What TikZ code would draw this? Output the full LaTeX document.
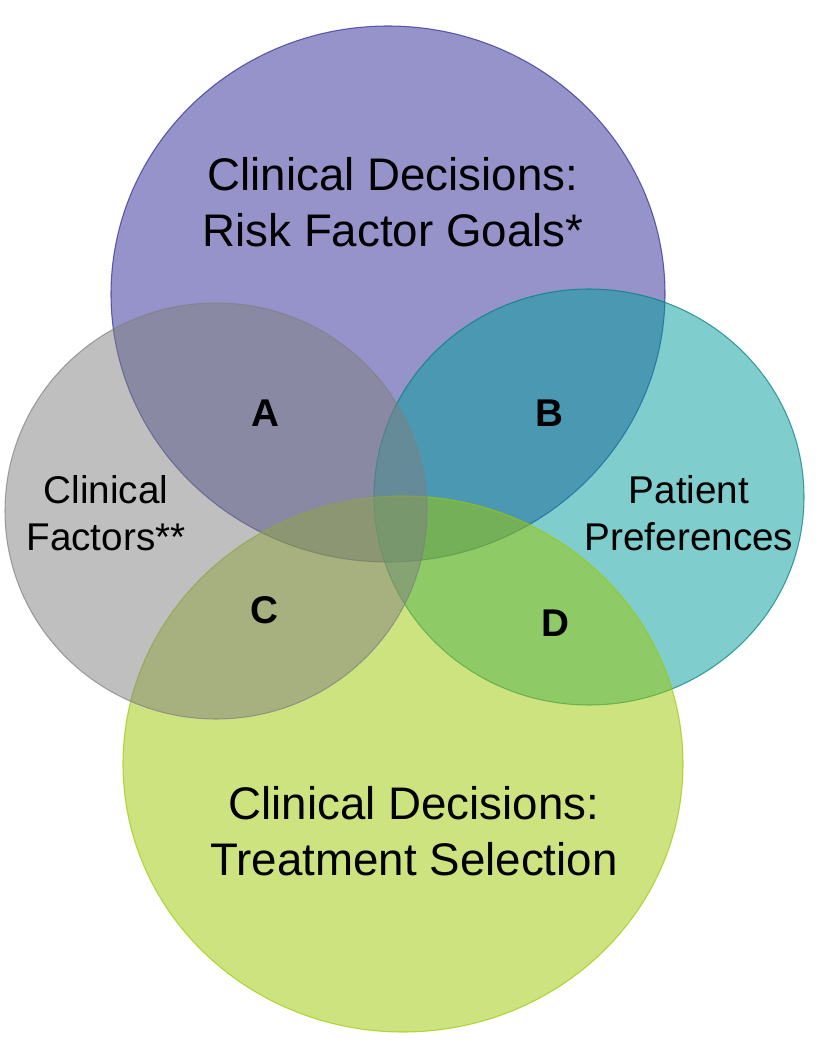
\documentclass[tikz,border=0pt]{standalone}
\usepackage{fontspec}
\setmainfont{Liberation Sans}
\usetikzlibrary{positioning}
\definecolor{riskcol}{RGB}{45,41,149}
\definecolor{prefcol}{RGB}{0,157,157}
\definecolor{treatcol}{RGB}{157,201,0}
\definecolor{factcol}{RGB}{128,128,128}
\tikzset{
    set/.style={fill opacity=0.5, draw opacity=0.7, line width=0.6pt},
    big/.style={align=center, font=\fontsize{26}{32}\selectfont},
    mid/.style={align=center, font=\fontsize{22}{27}\selectfont},
    region/.style={font=\fontsize{22}{26}\selectfont\bfseries}
}

\begin{document}
\begin{tikzpicture}[x=0.02cm,y=-0.02cm]
    \useasboundingbox (0,0) rectangle (827,1050);
    \fill[white] (0,0) rectangle (827,1050);
    % the four sets
    \filldraw[set, fill=riskcol, draw=riskcol] (388,294) ellipse [x radius=277, y radius=268];
    \filldraw[set, fill=prefcol, draw=prefcol!80!black] (589,497) ellipse [x radius=215, y radius=208];
    \filldraw[set, fill=treatcol, draw=treatcol] (403,764) ellipse [x radius=280, y radius=268];
    \filldraw[set, fill=factcol, draw=factcol] (216,511) ellipse [x radius=211, y radius=208];

    \node[big] (goals) at (393,202) {Clinical Decisions:\\Risk Factor Goals*};
    \node[big] (select) at (414,831) {Clinical Decisions:\\Treatment Selection};
    \node[mid] (factors) at (106,513) {Clinical\\Factors**};
    \node[mid] (prefs) at (689,513) {Patient\\Preferences};

    \node[region] (A) at (265,413) {A};
    \node[region] (B) at (549,413) {B};
    \node[region] (C) at (264,610) {C};
    \node[region] (D) at (555,623) {D};
\end{tikzpicture}
\end{document}
